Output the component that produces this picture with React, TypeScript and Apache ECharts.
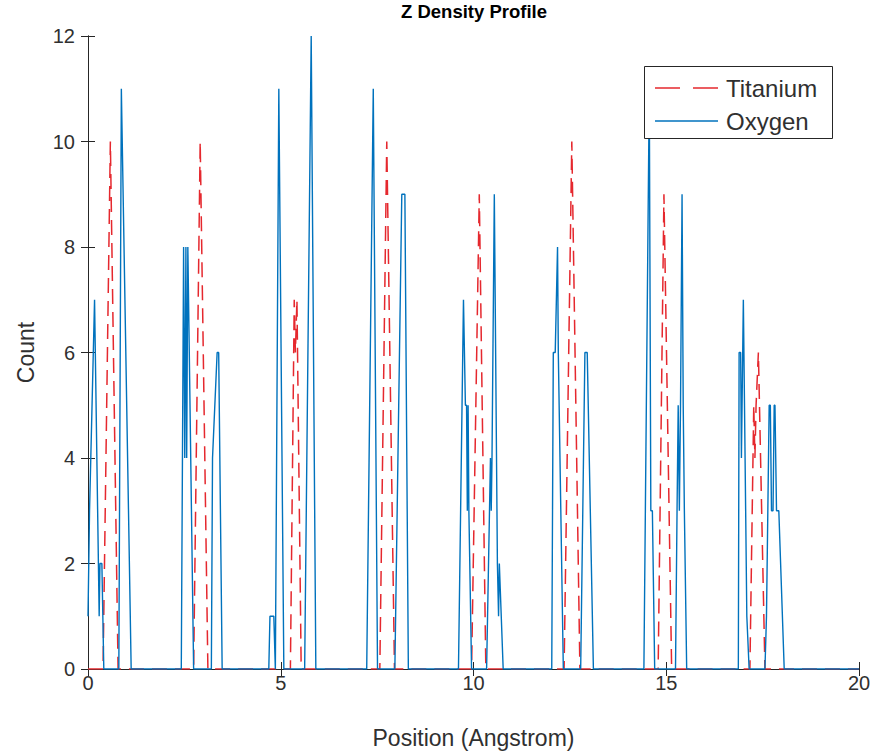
import React, { useEffect, useRef } from "react";
import * as echarts from "echarts";

// ---- Data ----
const titaniumX = [
  0, 0.39, 0.58, 0.78,
  2.74, 2.91, 3.11,
  5.25, 5.35, 5.38, 5.42, 5.53,
  7.57, 7.75, 7.95,
  9.95, 10.15, 10.32,
  12.35, 12.55, 12.76,
  14.79, 14.94, 15.14,
  17.17, 17.27, 17.3, 17.33, 17.39, 17.56,
  20,
];
const titaniumY = [
  0, 0, 10, 0,
  0, 10, 0,
  0, 7, 6, 7, 0,
  0, 10, 0,
  0, 9, 0,
  0, 10, 0,
  0, 9, 0,
  0, 5, 4, 5, 6, 0,
  0,
];

const oxygenX = [
  0, 0.04, 0.17, 0.29, 0.31, 0.36, 0.41,
  0.8, 0.865, 1.12,
  2.42, 2.48, 2.51, 2.54, 2.56, 2.59, 2.74,
  3.2, 3.23, 3.35, 3.39, 3.48,
  4.69, 4.72, 4.82, 4.86, 4.95, 5.08,
  5.62, 5.79, 5.91,
  7.23, 7.4, 7.51,
  7.96, 8.14, 8.22, 8.31,
  9.61, 9.74, 9.79, 9.82, 9.84, 9.86, 9.88, 9.95,
  10.34, 10.44, 10.46, 10.48, 10.54, 10.62, 10.65, 10.67, 10.77,
  12.03, 12.07, 12.12, 12.18, 12.2, 12.33,
  12.78, 12.89, 12.95, 13.11,
  14.42, 14.56, 14.6, 14.64, 14.7,
  15.24, 15.28, 15.31, 15.34, 15.37, 15.41, 15.44, 15.47, 15.53,
  16.87, 16.89, 16.93, 16.95, 17.0, 17.09, 17.15,
  17.56, 17.6, 17.67, 17.7, 17.73, 17.77, 17.8, 17.82, 17.86, 17.92, 18.06,
  20,
];
const oxygenY = [
  1, 3, 7, 1, 2, 2, 0,
  0, 11, 0,
  0, 8, 4, 8, 4, 8, 0,
  0, 4, 6, 6, 0,
  0, 1, 1, 0, 11, 0,
  0, 12, 0,
  0, 11, 0,
  0, 9, 9, 0,
  0, 7, 5, 5, 3, 5, 3, 0,
  0, 4, 3, 4, 9, 2, 1, 2, 0,
  0, 6, 6, 8, 6, 0,
  0, 6, 6, 0,
  0, 11, 3, 3, 0,
  0, 3, 5, 3, 5, 9, 5, 3, 0,
  0, 6, 6, 4, 7, 1, 0,
  0, 1, 5, 5, 3, 3, 5, 5, 3, 3, 0,
  0,
];

const xTicks = [0, 5, 10, 15, 20];
const yTicks = [0, 2, 4, 6, 8, 10, 12];

const TITLE = "Z Density Profile";
const X_LABEL = "Position (Angstrom)";
const Y_LABEL = "Count";
const SERIES_NAMES = ["Titanium", "Oxygen"];

const FONT = "'Liberation Sans', Arial, Helvetica, sans-serif";
const AXIS_COLOR = "#262626";
const TEXT_COLOR = "#303030";
const RED = "#E5282E";
const BLUE = "#0072BD";

export default function App() {
  const ref = useRef<HTMLDivElement>(null);

  useEffect(() => {
    if (!ref.current) return;
    const chart = echarts.init(ref.current, undefined, { renderer: "svg" });

    const tiData = titaniumX.map((x, i) => [x, titaniumY[i]]);
    const oxData = oxygenX.map((x, i) => [x, oxygenY[i]]);

    const xMin = xTicks[0];
    const xMax = xTicks[xTicks.length - 1];
    const xStep = xTicks[1] - xTicks[0];
    const yMin = yTicks[0];
    const yMax = yTicks[yTicks.length - 1];
    const yStep = yTicks[1] - yTicks[0];

    const baseAxisLine = { show: true, lineStyle: { color: AXIS_COLOR, width: 1 } };
    const tick = { show: true, inside: true, length: 7, lineStyle: { color: AXIS_COLOR, width: 1 } };

    // legend box (MATLAB style) drawn with graphic elements
    const lgX = 644, lgY = 66, lgW = 188, lgH = 72;
    const row1 = 88, row2 = 121;
    const legendGraphic = [
      {
        type: "rect",
        z: 100,
        shape: { x: lgX + 0.5, y: lgY + 0.5, width: lgW, height: lgH },
        style: { fill: "#ffffff", stroke: AXIS_COLOR, lineWidth: 1 },
      },
      {
        type: "line",
        z: 101,
        shape: { x1: 655, y1: row1, x2: 718, y2: row1 },
        style: { stroke: RED, lineWidth: 1.5, lineDash: [25, 13] },
      },
      {
        type: "text",
        z: 101,
        x: 726,
        y: row1,
        style: {
          text: SERIES_NAMES[0],
          fontFamily: FONT,
          fontSize: 24,
          fill: TEXT_COLOR,
          align: "left",
          verticalAlign: "middle",
        },
      },
      {
        type: "line",
        z: 101,
        shape: { x1: 655, y1: row2, x2: 718, y2: row2 },
        style: { stroke: BLUE, lineWidth: 1.5 },
      },
      {
        type: "text",
        z: 101,
        x: 726,
        y: row2,
        style: {
          text: SERIES_NAMES[1],
          fontFamily: FONT,
          fontSize: 24,
          fill: TEXT_COLOR,
          align: "left",
          verticalAlign: "middle",
        },
      },
    ];

    chart.setOption({
      animation: false,
      backgroundColor: "#ffffff",
      textStyle: { fontFamily: FONT },
      title: {
        text: TITLE,
        left: 401,
        top: 2,
        padding: 0,
        textStyle: { fontFamily: FONT, fontSize: 18.5, fontWeight: "bold", color: "#000000" },
      },
      graphic: legendGraphic,
      grid: { left: 88, top: 36, right: 22, bottom: 86, containLabel: false },
      xAxis: [
        {
          type: "value",
          min: xMin,
          max: xMax,
          interval: xStep,
          position: "bottom",
          axisLine: baseAxisLine,
          axisTick: tick,
          splitLine: { show: false },
          axisLabel: { fontFamily: FONT, fontSize: 20, color: TEXT_COLOR, margin: 4 },
          name: X_LABEL,
          nameLocation: "middle",
          nameGap: 57,
          nameTextStyle: { fontFamily: FONT, fontSize: 23, color: TEXT_COLOR },
        },
        {
          type: "value",
          min: xMin,
          max: xMax,
          interval: xStep,
          position: "top",
          axisLine: baseAxisLine,
          axisTick: tick,
          splitLine: { show: false },
          axisLabel: { show: false },
        },
      ],
      yAxis: [
        {
          type: "value",
          min: yMin,
          max: yMax,
          interval: yStep,
          position: "left",
          axisLine: baseAxisLine,
          axisTick: tick,
          splitLine: { show: false },
          axisLabel: { fontFamily: FONT, fontSize: 20, color: TEXT_COLOR, margin: 13 },
          name: Y_LABEL,
          nameLocation: "middle",
          nameGap: 51,
          nameRotate: 90,
          nameTextStyle: { fontFamily: FONT, fontSize: 23, color: TEXT_COLOR },
        },
        {
          type: "value",
          min: yMin,
          max: yMax,
          interval: yStep,
          position: "right",
          axisLine: baseAxisLine,
          axisTick: tick,
          splitLine: { show: false },
          axisLabel: { show: false },
        },
      ],
      series: [
        {
          name: SERIES_NAMES[0],
          type: "line",
          xAxisIndex: 0,
          yAxisIndex: 0,
          data: tiData,
          showSymbol: false,
          symbol: "none",
          lineStyle: { color: RED, width: 1.5, type: [15, 8] },
          itemStyle: { color: RED },
          z: 2,
        },
        {
          name: SERIES_NAMES[1],
          type: "line",
          xAxisIndex: 0,
          yAxisIndex: 0,
          data: oxData,
          showSymbol: false,
          symbol: "none",
          lineStyle: { color: BLUE, width: 1.4, type: "solid" },
          itemStyle: { color: BLUE },
          z: 3,
        },
      ],
    });

    return () => chart.dispose();
  }, []);

  return (
    <div
      ref={ref}
      style={{ position: "absolute", left: 0, top: 0, width: 881, height: 755, background: "#fff" }}
    />
  );
}
